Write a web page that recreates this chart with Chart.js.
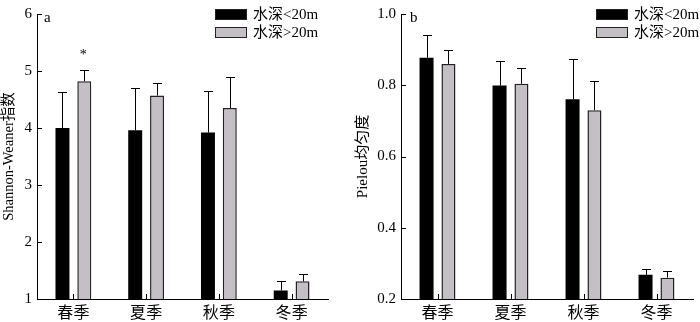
<!DOCTYPE html>
<html>
<head>
<meta charset="utf-8">
<script src="https://cdn.jsdelivr.net/npm/chart.js@4"></script>
<style>
  html, body { margin: 0; padding: 0; background: #fff; }
  .wrap { display: flex; width: 700px; height: 322px; }
  .panel { position: relative; width: 350px; height: 322px; }
</style>
</head>
<body>
<div class="wrap">
  <div class="panel"><canvas id="chartA"></canvas></div>
  <div class="panel"><canvas id="chartB"></canvas></div>
</div>
<script>
var seasons = ['春季', '夏季', '秋季', '冬季'];
var seriesNames = ['水深<20m', '水深>20m'];

// Shannon-Weaner index
var shallowH = [4.00, 3.96, 3.92, 1.15];
var shallowHErr = [0.63, 0.75, 0.73, 0.16];
var deepH = [4.82, 4.57, 4.35, 1.31];
var deepHErr = [0.20, 0.22, 0.55, 0.13];
var deepHMark = ['*', '', '', ''];
var hTicks = [1, 2, 3, 4, 5, 6];

// Pielou evenness
var shallowJ = [0.877, 0.799, 0.761, 0.268];
var shallowJErr = [0.065, 0.069, 0.112, 0.015];
var deepJ = [0.860, 0.804, 0.730, 0.260];
var deepJErr = [0.039, 0.045, 0.082, 0.020];
var deepJMark = ['', '', '', ''];
var jTicks = [0.2, 0.4, 0.6, 0.8, 1.0];

var serif = '"Liberation Serif", "Times New Roman", "Noto Sans CJK SC", serif';
var grayFill = '#c3bfc5';

var extrasPlugin = {
    id: 'extras',
    afterDatasetsDraw: function (chart, args, opts) {
        var ctx = chart.ctx;
        var x = chart.scales.x, y = chart.scales.y;
        var area = chart.chartArea;
        ctx.save();
        ctx.strokeStyle = '#000';
        ctx.lineWidth = 1;

        // error bars (upper half only) and significance marks
        chart.data.datasets.forEach(function (ds, i) {
            var meta = chart.getDatasetMeta(i);
            meta.data.forEach(function (bar, j) {
                var top = y.getPixelForValue(ds.data[j] + ds.errors[j]);
                var bx = Math.round(bar.x) + 0.5;
                ctx.beginPath();
                ctx.moveTo(bx, bar.y);
                ctx.lineTo(bx, Math.round(top) + 0.5);
                ctx.moveTo(bx - 4.5, Math.round(top) + 0.5);
                ctx.lineTo(bx + 4.5, Math.round(top) + 0.5);
                ctx.stroke();
                if (ds.marks && ds.marks[j]) {
                    ctx.fillStyle = '#000';
                    ctx.font = '14px ' + serif;
                    ctx.textAlign = 'center';
                    ctx.textBaseline = 'middle';
                    ctx.fillText(ds.marks[j], bar.x - 1, top - 15);
                }
            });
        });

        // inward ticks
        ctx.beginPath();
        y.ticks.forEach(function (t, k) {
            var py = Math.round(y.getPixelForTick(k)) + 0.5;
            ctx.moveTo(area.left, py);
            ctx.lineTo(area.left + 5, py);
        });
        seasons.forEach(function (s, k) {
            var px = Math.round(x.getPixelForTick(k)) + 0.5;
            ctx.moveTo(px, area.bottom);
            ctx.lineTo(px, area.bottom - 5);
        });
        ctx.stroke();

        // panel letter
        ctx.fillStyle = '#000';
        ctx.font = '15px ' + serif;
        ctx.textAlign = 'left';
        ctx.textBaseline = 'middle';
        ctx.fillText(opts.letter, area.left + opts.letterDx, 18);

        // legend
        chart.data.datasets.forEach(function (ds, i) {
            var ly = 9 + i * 18;
            ctx.fillStyle = ds.backgroundColor;
            ctx.fillRect(opts.legendX, ly, 32, 11);
            ctx.strokeStyle = '#222';
            ctx.strokeRect(opts.legendX + 0.5, ly + 0.5, 31, 10);
            ctx.fillStyle = '#000';
            ctx.font = '15px ' + serif;
            ctx.textBaseline = 'middle';
            ctx.fillText(ds.label, opts.legendX + 38, ly + 6);
        });
        ctx.restore();
    }
};

function makeChart(id, title, d1, e1, d2, e2, marks, ticks, opts) {
    var minV = ticks[0], maxV = ticks[ticks.length - 1];
    new Chart(document.getElementById(id), {
        type: 'bar',
        data: {
            labels: seasons,
            datasets: [{
                label: seriesNames[0],
                data: d1,
                errors: e1,
                backgroundColor: '#000',
                borderColor: '#000',
                borderWidth: 0,
                categoryPercentage: 0.6,
                barPercentage: 0.64
            }, {
                label: seriesNames[1],
                data: d2,
                errors: e2,
                marks: marks,
                backgroundColor: grayFill,
                borderColor: '#222',
                borderWidth: 1.5,
                categoryPercentage: 0.6,
                barPercentage: 0.64
            }]
        },
        options: {
            responsive: false,
            animation: false,
            layout: { padding: { top: 7, right: opts.padRight, left: 0, bottom: 0 } },
            plugins: {
                legend: { display: false },
                tooltip: { enabled: false },
                extras: opts
            },
            scales: {
                x: {
                    grid: { display: false, drawTicks: false },
                    border: { color: '#000', width: 1 },
                    ticks: { color: '#000', padding: 5, font: { family: serif, size: 16 } },
                    afterFit: function (s) { s.height = 23; }
                },
                y: {
                    min: minV,
                    max: maxV,
                    afterBuildTicks: function (s) {
                        s.ticks = ticks.map(function (v) { return { value: v }; });
                    },
                    grid: { display: false, drawTicks: false },
                    border: { color: '#000', width: 1 },
                    ticks: {
                        color: '#000',
                        padding: 5,
                        font: { family: serif, size: 15 },
                        callback: function (v) { return opts.decimals ? v.toFixed(1) : String(v); }
                    },
                    title: {
                        display: true,
                        text: title,
                        color: '#000',
                        padding: { top: opts.titlePad, bottom: 0 },
                        font: { family: serif, size: opts.titleSize }
                    },
                    afterFit: function (s) { s.width = opts.axisW; }
                }
            }
        },
        plugins: [extrasPlugin]
    });
}

var cA = document.getElementById('chartA');
cA.width = 350; cA.height = 322;
var cB = document.getElementById('chartB');
cB.width = 350; cB.height = 322;

makeChart('chartA', 'Shannon-Weaner指数', shallowH, shallowHErr, deepH, deepHErr, deepHMark, hTicks,
    { letter: 'a', letterDx: 7, legendX: 215, padRight: 22, axisW: 37, titlePad: 0, titleSize: 14.5, decimals: false });
makeChart('chartB', 'Pielou均匀度', shallowJ, shallowJErr, deepJ, deepJErr, deepJMark, jTicks,
    { letter: 'b', letterDx: 9, legendX: 246, padRight: 7, axisW: 51, titlePad: 4, titleSize: 15, decimals: true });
</script>
</body>
</html>
